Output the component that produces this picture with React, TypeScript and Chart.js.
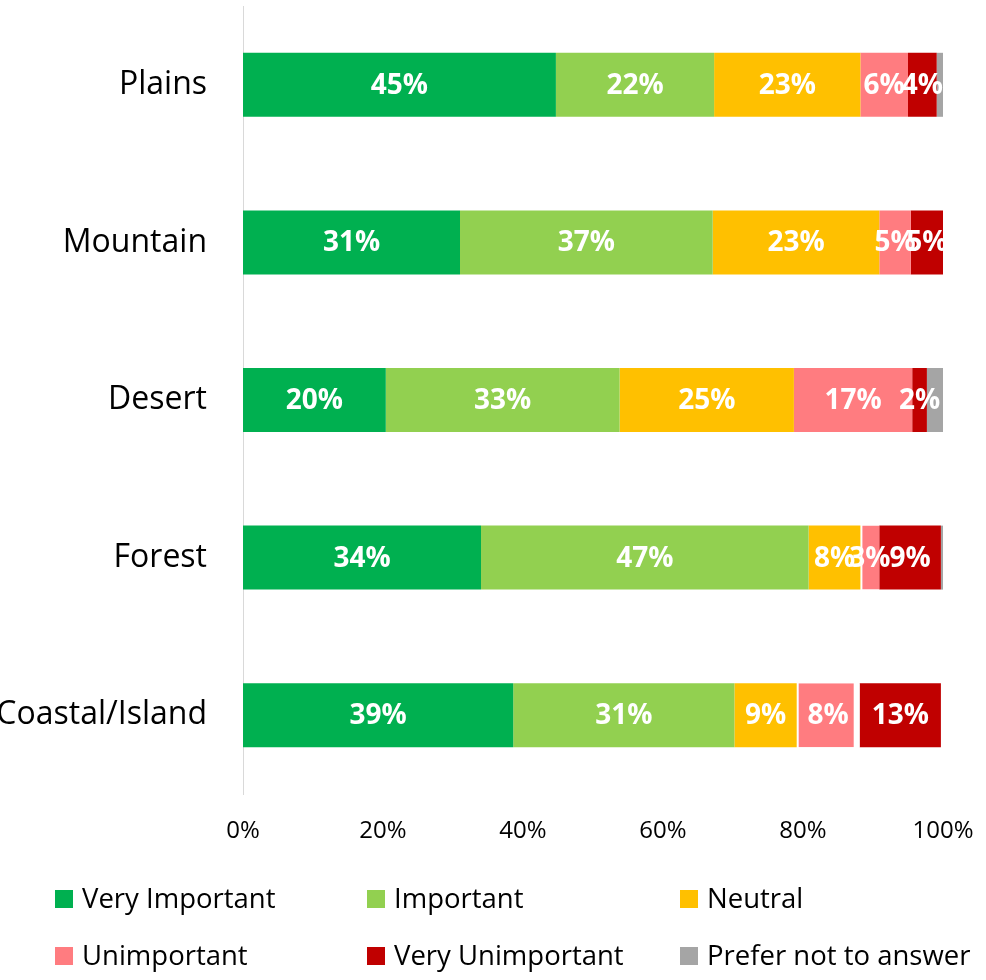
import React, { useEffect, useRef } from "react";
import { Chart, registerables } from "chart.js";

Chart.register(...registerables);

const categories = ["Plains", "Mountain", "Desert", "Forest", "Coastal/Island"];
const seriesNames = [
  "Very Important",
  "Important",
  "Neutral",
  "Unimportant",
  "Very Unimportant",
  "Prefer not to answer",
];
const seriesColors = ["#00B050", "#92D050", "#FFC000", "#FF7C80", "#C00000", "#A5A5A5"];

// bar lengths (percent of respondents) as drawn
const veryImportant = [44.7, 31.0, 20.4, 34.0, 38.6];
const important = [22.6, 36.1, 33.4, 46.8, 31.6];
const neutral = [20.9, 23.8, 24.9, 7.4, 8.9];
const unimportant = [6.8, 4.5, 16.9, 2.7, 9.0];
const veryUnimportant = [4.1, 4.6, 2.1, 8.8, 11.6];
const preferNot = [0.9, 0, 2.3, 0.3, 0];

// data labels as printed on the bars
const veryImportantLabels = ["45%", "31%", "20%", "34%", "39%"];
const importantLabels = ["22%", "37%", "33%", "47%", "31%"];
const neutralLabels = ["23%", "23%", "25%", "8%", "9%"];
const unimportantLabels = ["6%", "5%", "17%", "3%", "8%"];
const veryUnimportantLabels = ["4%", "5%", "2%", "9%", "13%"];
const preferNotLabels = ["", "", "", "", ""];

const xTickValues = [0, 20, 40, 60, 80, 100];

const seriesValues = [veryImportant, important, neutral, unimportant, veryUnimportant, preferNot];
const seriesLabels = [
  veryImportantLabels,
  importantLabels,
  neutralLabels,
  unimportantLabels,
  veryUnimportantLabels,
  preferNotLabels,
];

const FONT = "'Open Sans', 'Noto Sans', sans-serif";

const barLabelPlugin = {
  id: "barLabels",
  afterDatasetsDraw(chart: any) {
    const ctx = chart.ctx;
    ctx.save();
    ctx.font = `bold 28px ${FONT}`;
    ctx.fillStyle = "#FFFFFF";
    ctx.textAlign = "center";
    ctx.textBaseline = "middle";
    chart.data.datasets.forEach((ds: any, di: number) => {
      const meta = chart.getDatasetMeta(di);
      meta.data.forEach((bar: any, i: number) => {
        const t = ds.valueLabels[i];
        if (!t) return;
        const p = bar.getProps(["x", "y", "base"], true);
        ctx.fillText(t, (p.x + p.base) / 2, p.y + 1);
      });
    });
    ctx.restore();
  },
};

const gridLegendPlugin = {
  id: "gridLegend",
  afterDraw(chart: any) {
    const ctx = chart.ctx;
    const area = chart.chartArea;
    const colX = [55, 367, 680];
    const rowY = [area.bottom + 105, area.bottom + 162];
    ctx.save();
    ctx.font = `27.5px ${FONT}`;
    ctx.textAlign = "left";
    ctx.textBaseline = "middle";
    chart.data.datasets.forEach((ds: any, i: number) => {
      const x = colX[i % 3];
      const y = rowY[Math.floor(i / 3)];
      ctx.fillStyle = ds.backgroundColor;
      ctx.fillRect(x, y - 9, 18, 18);
      ctx.fillStyle = "#000000";
      ctx.fillText(ds.label, x + 27, y + 1);
    });
    ctx.restore();
  },
};

const zeroPadding = (s: any) => {
  s.paddingLeft = 0;
  s.paddingRight = 0;
  s.paddingTop = 0;
  s.paddingBottom = 0;
};

// thin white separations seen around the small pink segments
const unimportantBorder = (c: any) => {
  if (c.dataIndex === 4) return { left: 2, right: 6, top: 0, bottom: 0 };
  if (c.dataIndex === 3) return { left: 2, right: 0, top: 0, bottom: 0 };
  return 0;
};

export default function App() {
  const canvasRef = useRef<HTMLCanvasElement | null>(null);

  useEffect(() => {
    const canvas = canvasRef.current;
    if (!canvas) return;
    const chart = new Chart(canvas, {
      type: "bar",
      data: {
        labels: categories,
        datasets: seriesNames.map((name, i) => ({
          label: name,
          data: seriesValues[i],
          valueLabels: seriesLabels[i],
          backgroundColor: seriesColors[i],
          borderColor: "#FFFFFF",
          borderWidth: i === 3 ? unimportantBorder : 0,
          borderSkipped: false,
          barPercentage: 1,
          categoryPercentage: 0.406,
        })) as any,
      },
      options: {
        indexAxis: "y",
        responsive: false,
        animation: false,
        devicePixelRatio: 1,
        layout: { padding: { top: 6, right: 43, left: 0, bottom: 126 } },
        plugins: {
          legend: { display: false },
          tooltip: { enabled: false },
        },
        scales: {
          x: {
            stacked: true,
            min: 0,
            max: 100,
            afterFit: (s: any) => {
              s.height = 60;
              zeroPadding(s);
            },
            afterBuildTicks: (s: any) => {
              s.ticks = xTickValues.map((v) => ({ value: v }));
            },
            grid: { display: false, drawTicks: false },
            border: { display: false },
            ticks: {
              padding: 23,
              color: "#000000",
              font: { family: FONT, size: 24 },
              callback: (v: any) => `${v}%`,
            },
          },
          y: {
            stacked: true,
            afterFit: (s: any) => {
              s.width = 243;
              zeroPadding(s);
            },
            grid: { display: false, drawTicks: false },
            border: { display: true, color: "#D9D9D9", width: 1 },
            ticks: {
              padding: 36,
              color: "#000000",
              font: { family: FONT, size: 32 },
            },
          },
        },
      } as any,
      plugins: [barLabelPlugin, gridLegendPlugin],
    });
    return () => chart.destroy();
  }, []);

  return (
    <div style={{ position: "absolute", left: 0, top: 0, width: 986, height: 980, background: "#fff" }}>
      <canvas ref={canvasRef} width={986} height={980} style={{ display: "block" }} />
    </div>
  );
}
